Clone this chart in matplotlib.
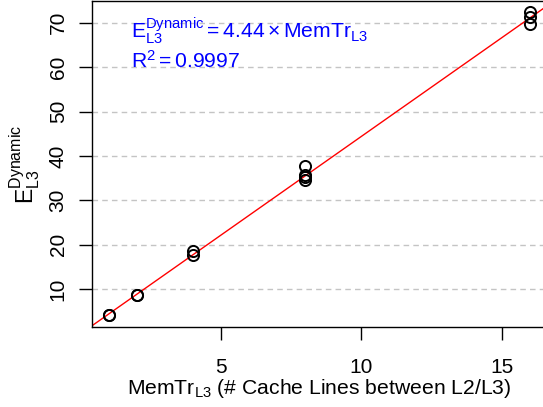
import numpy as np
import matplotlib
matplotlib.use('Agg')
import matplotlib.pyplot as plt

plt.rcParams['font.family'] = ['Liberation Sans', 'DejaVu Sans']
plt.rcParams['mathtext.fontset'] = 'custom'
plt.rcParams['mathtext.rm'] = 'Liberation Sans'
plt.rcParams['mathtext.it'] = 'Liberation Sans:italic'

# measured points (cache lines, dynamic energy)
mem_tr = [1, 1, 2, 2, 4, 4, 8, 8, 8, 8, 16, 16, 16]
energy = [4.2, 4.3, 8.6, 8.7, 18.6, 17.6, 37.7, 35.8, 35.2, 34.6, 72.4, 71.3, 69.7]
slope = 4.44
r2 = 0.9997
yticks = [10, 20, 30, 40, 50, 60, 70]
xticks = [5, 10, 15]

fig = plt.figure(figsize=(5.43, 4.07), dpi=100)
ax = fig.add_axes([0.1694, 0.1966, 0.837, 0.801])

for y in yticks:
    ax.axhline(y, color='#c4c4c4', linestyle=(0, (4, 3)), linewidth=1.0, zorder=0)

ax.plot(mem_tr, energy, 'o', mfc='none', mec='black', markersize=8, mew=1.4, zorder=3)

xx = np.array([0.0, 17.0])
ax.plot(xx, slope * xx, color='red', linewidth=1.0, zorder=2)

ax.set_xlim(0.4, 16.6)
ax.set_ylim(1.5, 74.9)
ax.set_xticks(xticks)
ax.set_yticks(yticks)
ax.set_yticklabels([str(v) for v in yticks], rotation=90, va='center')
ax.tick_params(axis='both', direction='out', length=9.5, width=1.0, labelsize=15)
ax.tick_params(axis='x', pad=13)
ax.tick_params(axis='y', pad=8)
for s in ax.spines.values():
    s.set_linewidth(1.0)

ax.set_xlabel(r'MemTr$_{\mathrm{L3}}$ (# Cache Lines between L2/L3)', fontsize=15.2, labelpad=0)
ax.set_ylabel(r'$\mathrm{E}_{\mathrm{L3}}^{\mathrm{Dynamic}}$', fontsize=16.5, labelpad=5)

ax.text(0.086, 0.955, r'$\mathrm{E}_{\mathrm{L3}}^{\mathrm{Dynamic}} = 4.44 \times \mathrm{MemTr}_{\mathrm{L3}}$',
        transform=ax.transAxes, color='#0000ff', fontsize=15.2, va='top', ha='left')
ax.text(0.086, 0.85, r'$\mathrm{R}^{2} = %.4f$' % r2,
        transform=ax.transAxes, color='#0000ff', fontsize=15.2, va='top', ha='left')

fig.savefig('out.png', dpi=100)
